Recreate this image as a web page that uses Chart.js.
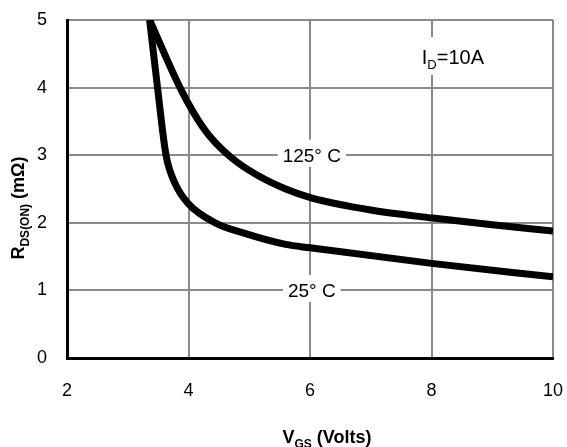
<!DOCTYPE html>
<html>
<head>
<meta charset="utf-8">
<script src="https://cdn.jsdelivr.net/npm/chart.js@4"></script>
<style>
  html, body { margin: 0; padding: 0; background: #fff; }
  #wrap { width: 567px; height: 447px; }
</style>
</head>
<body>
<div id="wrap"><canvas id="rdsChart" width="567" height="447"></canvas></div>
<script>
// ── Data ──
const xTicks = [2, 4, 6, 8, 10];
const yTicks = [0, 1, 2, 3, 4, 5];

const vgs125 = [3.36, 3.86, 4.11, 4.35, 4.71, 5.12, 5.6, 6.02, 7.0, 8.02, 9.0, 10];
const rds125 = [5.0, 4.0, 3.59, 3.28, 2.96, 2.71, 2.5, 2.37, 2.19, 2.07, 1.97, 1.88];

const vgs25 = [3.36, 3.49, 3.63, 3.78, 4.0, 4.44, 4.9, 5.6, 6.0, 8.0, 10];
const rds25 = [5.0, 4.0, 3.0, 2.58, 2.28, 2.0, 1.85, 1.68, 1.63, 1.40, 1.20];

const curveNames = ['125° C', '25° C'];

const FONT = "'Liberation Sans', Arial, sans-serif";

function toPoints(xs, ys) {
  return xs.map((x, i) => ({ x: x, y: ys[i] }));
}

// ── draw text made of normal + subscript pieces ──
function drawRich(ctx, parts, x, y, size, bold, align) {
  const w = bold ? 'bold ' : '';
  const subSize = Math.round(size * 0.66);
  let total = 0;
  parts.forEach(p => {
    ctx.font = w + (p[1] ? subSize : size) + 'px ' + FONT;
    p.w = ctx.measureText(p[0]).width;
    total += p.w;
  });
  let cx = align === 'center' ? x - total / 2 : x;
  ctx.textAlign = 'left';
  ctx.textBaseline = 'alphabetic';
  parts.forEach(p => {
    ctx.font = w + (p[1] ? subSize : size) + 'px ' + FONT;
    ctx.fillText(p[0], cx, p[1] ? y + size * 0.25 : y);
    cx += p.w;
  });
  return total;
}

// ── labels and axis titles ──
const annotations = {
  id: 'annotations',
  afterDatasetsDraw(chart) {
    const ctx = chart.ctx;
    const xs = chart.scales.x;
    const ys = chart.scales.y;
    ctx.save();
    ctx.fillStyle = '#000';

    // curve names on white boxes
    const spots = [[6.03, 3], [6.03, 1]];
    curveNames.forEach((name, i) => {
      const px = xs.getPixelForValue(spots[i][0]);
      const base = ys.getPixelForValue(spots[i][1]) + 6.5;
      ctx.font = '19px ' + FONT;
      const tw = ctx.measureText(name).width;
      ctx.fillStyle = '#fff';
      ctx.fillRect(px - tw / 2 - 5, base - 22, tw + 10, 27);
      ctx.fillStyle = '#000';
      ctx.textAlign = 'center';
      ctx.textBaseline = 'alphabetic';
      ctx.fillText(name, px, base);
    });

    // I_D = 10A
    const ix = xs.getPixelForValue(7.84);
    const iy = ys.getPixelForValue(4.35);
    ctx.fillStyle = '#fff';
    ctx.fillRect(ix - 4, iy - 27, 72, 38);
    ctx.fillStyle = '#000';
    drawRich(ctx, [['I', false], ['D', true], ['=10A', false]], ix, iy, 20, false, 'left');

    // x title
    const area = chart.chartArea;
    drawRich(ctx, [['V', false], ['GS', true], [' (Volts)', false]],
      area.left + 260, chart.height - 4, 18, true, 'center');

    // y title (rotated)
    ctx.save();
    ctx.translate(24, 208);
    ctx.rotate(-Math.PI / 2);
    drawRich(ctx, [['R', false], ['DS(ON)', true], [' (mΩ)', false]], 0, 0, 18, true, 'center');
    ctx.restore();

    ctx.restore();
  }
};

const lineStyle = {
  showLine: true,
  borderColor: '#000',
  backgroundColor: '#000',
  borderWidth: 7,
  pointRadius: 0,
  cubicInterpolationMode: 'monotone',
  borderJoinStyle: 'round',
  fill: false
};

const ctxR = document.getElementById('rdsChart').getContext('2d');
const rdsChart = new Chart(ctxR, {
  type: 'scatter',
  data: {
    datasets: [
      Object.assign({ label: curveNames[0], data: toPoints(vgs125, rds125) }, lineStyle),
      Object.assign({ label: curveNames[1], data: toPoints(vgs25, rds25) }, lineStyle)
    ]
  },
  options: {
    responsive: false,
    animation: false,
    devicePixelRatio: 1,
    layout: { padding: 0 },
    plugins: { legend: { display: false }, tooltip: { enabled: false } },
    scales: {
      x: {
        type: 'linear',
        min: 2,
        max: 10,
        afterBuildTicks: s => { s.ticks = xTicks.map(v => ({ value: v })); },
        afterFit: s => { s.height = 89; s.paddingLeft = 0; s.paddingRight = 14; },
        grid: { color: '#8a8a8a', lineWidth: 2, drawTicks: false },
        border: { color: '#000', width: 3 },
        ticks: { color: '#000', padding: 22, font: { size: 18, family: FONT } }
      },
      y: {
        type: 'linear',
        min: 0,
        max: 5,
        afterBuildTicks: s => { s.ticks = yTicks.map(v => ({ value: v })); },
        afterFit: s => { s.width = 67; s.paddingTop = 20; s.paddingBottom = 0; },
        grid: { color: '#8a8a8a', lineWidth: 2, drawTicks: false },
        border: { color: '#000', width: 3 },
        ticks: { color: '#000', padding: 20, font: { size: 18, family: FONT } }
      }
    }
  },
  plugins: [annotations]
});
</script>
</body>
</html>
